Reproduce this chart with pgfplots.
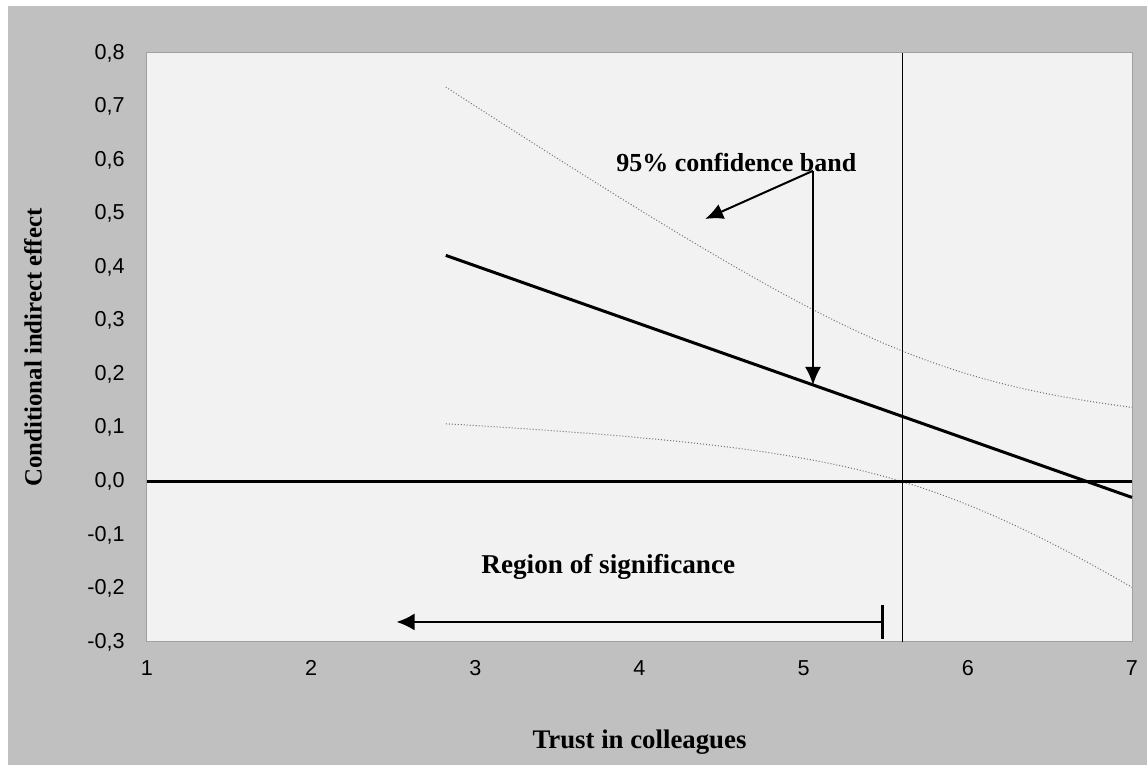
\documentclass[border=0pt]{standalone}
\usepackage{fontspec}
\setmainfont{Liberation Serif}
\setsansfont{Liberation Sans}
\usepackage{pgfplots}
\pgfplotsset{compat=1.18}
\usetikzlibrary{arrows.meta}
\definecolor{outerbg}{HTML}{C0C0C0}
\definecolor{innerbg}{HTML}{F2F2F2}
\definecolor{framec}{HTML}{A0A0A0}
\definecolor{cic}{HTML}{707070}

\begin{document}
\begin{tikzpicture}
\path[use as bounding box, fill=white] (-73.5pt,-64.5pt) rectangle (500pt,321pt);
\fill[outerbg] (-69.5pt,-61.5pt) rectangle (500pt,318pt);
\begin{axis}[
  at={(0,0)}, anchor=south west,
  scale only axis, width=492.5pt, height=294.5pt,
  xmin=1, xmax=7, ymin=-0.3, ymax=0.8,
  xtick={1,2,3,4,5,6,7},
  ytick={-0.3,-0.2,-0.1,0,0.1,0.2,0.3,0.4,0.5,0.6,0.7,0.8},
  axis background/.style={fill=innerbg},
  axis line style={draw=framec, line width=0.5pt},
  tick style={draw=none},
  /pgf/number format/assume math mode=true,
  yticklabel style={/pgf/number format/use comma, /pgf/number format/fixed, /pgf/number format/fixed zerofill, /pgf/number format/precision=1},
  ticklabel style={font=\sffamily\fontsize{10.8}{12}\selectfont},
  y tick label style={anchor=east, inner sep=0pt, xshift=-11pt},
  x tick label style={anchor=north, inner sep=0pt, yshift=-9pt},
  clip=false,
]
\addplot[cic, line width=0.5pt, densely dotted, smooth] coordinates {
(2.82,0.7365)(3.0,0.7008)(3.25,0.6517)(3.5,0.6030)(3.75,0.5548)(4.0,0.5072)(4.25,0.4606)(4.5,0.4152)(4.75,0.3714)(5.0,0.3298)(5.25,0.2911)(5.5,0.2562)(5.75,0.2258)(6.0,0.2002)(6.25,0.1794)(6.5,0.1626)(6.75,0.1491)(7.0,0.1380)};
\addplot[cic, line width=0.5pt, densely dotted, smooth] coordinates {
(2.82,0.1075)(3.0,0.1042)(3.25,0.0993)(3.5,0.0940)(3.75,0.0882)(4.0,0.0816)(4.25,0.0742)(4.5,0.0656)(4.75,0.0554)(5.0,0.0428)(5.25,0.0275)(5.5,0.0084)(5.75,-0.0152)(6.0,-0.0438)(6.25,-0.0770)(6.5,-0.1142)(6.75,-0.1547)(7.0,-0.1978)};
\addplot[black, line width=0.5pt] coordinates {(5.6,-0.3)(5.6,0.8)};
\addplot[black, line width=1.5pt] coordinates {(1,0)(7,0)};
\addplot[black, line width=1.5pt] coordinates {(2.82,0.422)(7,-0.030)};

\node[font=\bfseries\fontsize{13}{15}\selectfont] at (axis cs:4.59,0.595) {95\% confidence band};
\draw[line width=1pt, -{Latex[length=9pt,width=8pt]}] (axis cs:5.057,0.580) -- (axis cs:4.40,0.490);
\draw[line width=1pt, -{Latex[length=9pt,width=8pt]}] (axis cs:5.057,0.580) -- (axis cs:5.057,0.18);
\node[font=\bfseries\fontsize{13.6}{15}\selectfont] at (axis cs:3.81,-0.16) {Region of significance};
\draw[line width=1pt, {Latex[length=9pt,width=8.5pt]}-{Bar[width=17pt, line width=1.6pt 0]}] (axis cs:2.52,-0.2626) -- (axis cs:5.49,-0.2626);

\node[rotate=90, font=\bfseries\fontsize{12.4}{14}\selectfont] at ([xshift=-57pt]rel axis cs:0,0.5) {Conditional indirect effect};
\node[font=\bfseries\fontsize{13.4}{15}\selectfont] at ([yshift=-50pt]rel axis cs:0.5,0) {Trust in colleagues};
\end{axis}
\end{tikzpicture}
\end{document}
